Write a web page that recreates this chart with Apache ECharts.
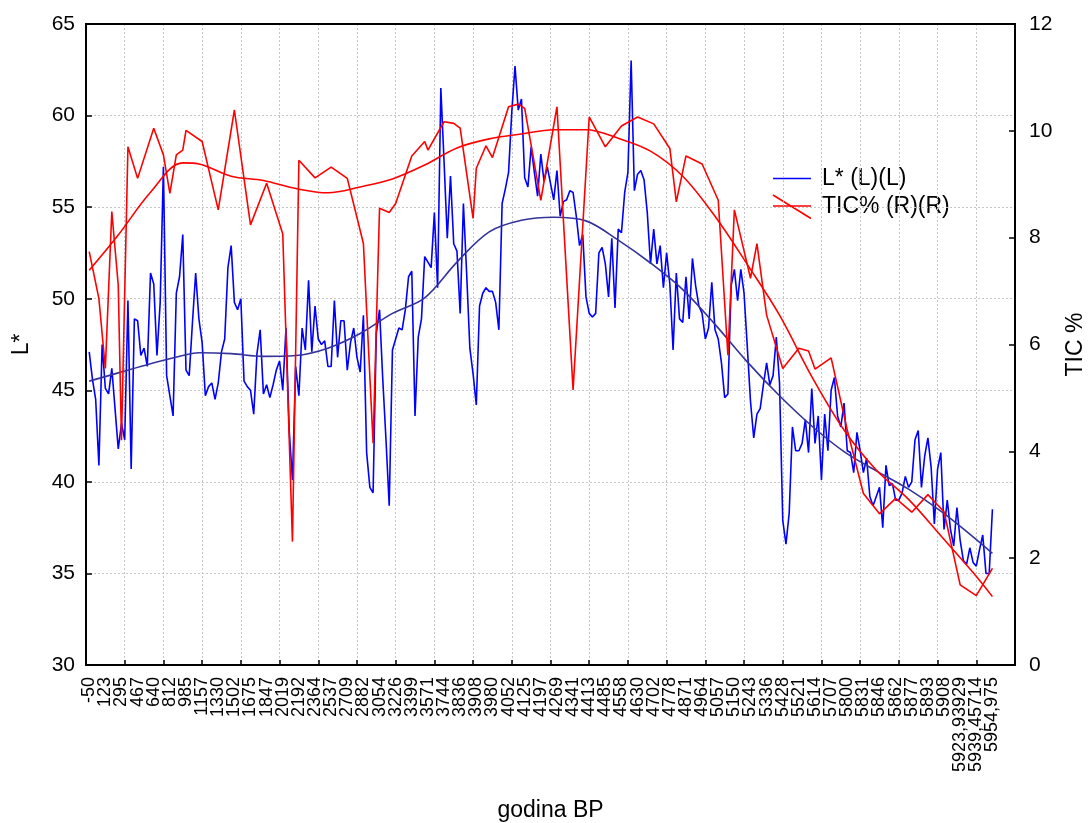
<!DOCTYPE html>
<html>
<head>
<meta charset="utf-8">
<title>L* i TIC%</title>
<script src="https://cdn.jsdelivr.net/npm/echarts@6/dist/echarts.min.js"></script>
<style>
  html, body { margin: 0; padding: 0; background: #fff; }
  #chart { width: 1090px; height: 823px; }
</style>
</head>
<body>
<div id="chart"></div>
<script>
// Age labels (godina BP) shown under every fifth sample
const tickLabels = ['-50','123','295','467','640','812','985','1157','1330','1502','1675','1847',
  '2019','2192','2364','2537','2709','2882','3054','3226','3399','3571','3744','3836','3908',
  '3980','4052','4125','4197','4269','4341','4413','4485','4558','4630','4702','4778','4871',
  '4964','5057','5150','5243','5336','5428','5521','5614','5707','5800','5831','5846','5862',
  '5877','5893','5908','5923,93929','5939,45714','5954,975'];

// L* lightness, one value per sample (samples 1..281)
const lStar = [
  47.1,45.6,44.5,40.9,47.5,45.1,44.8,46.2,44.0,41.8, 43.2,42.3,49.9,40.7,48.9,48.8,46.9,47.3,46.3,51.4,
  50.8,46.9,49.8,57.2,45.8,44.7,43.6,50.3,51.2,53.5, 46.1,45.8,48.7,51.4,48.9,47.6,44.7,45.2,45.4,44.5,
  45.4,47.1,47.8,51.7,52.9,49.8,49.4,50.0,45.5,45.2, 45.0,43.7,47.0,48.3,44.8,45.3,44.6,45.3,46.1,46.6,
  45.0,48.4,42.8,40.1,46.3,44.7,48.4,47.2,51.0,47.1, 49.6,47.8,47.5,47.7,46.3,46.3,49.9,46.8,48.8,48.8,
  46.1,47.6,48.4,46.8,46.0,49.1,41.6,39.7,39.4,48.1, 49.4,45.6,42.3,38.7,47.2,47.8,48.4,48.3,49.4,51.2,
  51.5,43.6,47.9,48.9,52.3,52.0,51.7,54.7,50.6,61.5, 57.5,53.3,56.7,53.0,52.6,49.2,55.2,51.4,47.3,45.9,
  44.2,49.6,50.3,50.6,50.4,50.4,49.8,48.3,55.2,56.0, 56.9,60.2,62.7,60.3,60.9,56.6,56.1,58.3,56.9,55.6,
  57.9,56.4,57.2,56.3,55.4,57.0,54.5,55.3,55.4,55.9, 55.8,54.5,52.9,53.5,50.1,49.2,49.0,49.2,52.5,52.8,
  51.9,50.1,53.3,49.5,53.8,53.6,55.8,56.9,63.0,55.9, 56.8,57.0,56.5,54.7,51.9,53.8,51.9,52.9,50.6,52.5,
  50.8,47.2,51.4,48.9,48.7,51.2,48.9,52.2,50.7,49.6, 49.2,47.8,48.4,50.9,48.3,47.8,46.5,44.6,44.8,50.7,
  51.6,49.9,51.6,50.3,47.4,44.4,42.4,43.7,44.0,45.3, 46.5,45.3,45.8,47.9,45.4,37.9,36.6,38.3,43.0,41.7,
  41.7,42.1,43.4,41.6,45.1,42.1,43.6,40.1,43.7,41.7, 45.0,45.7,43.6,43.0,44.3,41.7,41.6,40.5,42.7,41.7,
  40.5,41.3,39.2,38.7,39.2,39.7,37.5,40.9,39.8,39.9, 39.0,39.0,39.4,40.3,39.7,40.0,42.3,42.8,39.7,41.4,
  42.4,40.8,37.7,40.7,41.6,37.4,39.0,37.4,36.5,38.6, 36.8,35.7,35.5,36.4,35.6,35.4,36.3,37.1,35.0,35.0,
  38.5
];

// TIC %, measured on a subset of the samples
const ticCases = [1,4,6,8,10,11,13,16,21,24,26,28,30,31,36,41,46,51,56,61,
  64,66,71,76,81,86,89,91,94,96,101,105,106,111,114,116,120,121,124,126,
  131,134,136,141,146,151,156,161,166,171,176,181,183,186,191,196,199,201,206,208,
  211,216,221,224,226,231,236,241,246,251,256,261,266,271,276,281];
const ticValues = [7.74,6.86,5.55,8.49,7.11,4.21,9.70,9.11,10.05,9.55,8.83,9.55,9.64,10.01,9.80,8.52,10.39,8.24,9.02,8.07,
  2.31,9.45,9.12,9.32,9.11,7.89,4.15,8.55,8.47,8.64,9.53,9.80,9.64,10.17,10.14,10.05,8.36,9.30,9.72,9.50,
  10.45,10.50,10.42,8.70,10.45,5.15,10.26,9.70,10.09,10.26,10.13,9.67,8.67,9.53,9.38,8.70,5.80,8.52,7.24,7.89,
  6.55,5.55,5.93,5.88,5.54,5.75,4.40,3.21,2.83,3.12,2.86,3.19,2.87,1.50,1.30,1.81];

// Smoothed trend curves, sampled along the sample axis
const fitCases = [1,10,20,30,35,45,55,65,75,85,95,105,115,125,135,145,155,165,175,185,195,205,215,225,235,245,255,265,275,281];
const lFit   = [45.5,45.95,46.45,46.9,47.05,47.0,46.85,46.9,47.3,48.1,49.2,50.05,52.0,53.65,54.28,54.45,54.25,53.2,51.95,50.5,48.6,46.55,44.7,43.05,41.65,40.6,39.6,38.4,37.0,36.1];
const ticFit = [7.39,8.05,8.85,9.4,9.38,9.15,9.07,8.92,8.84,8.95,9.1,9.36,9.68,9.85,9.94,10.02,10.02,9.86,9.62,9.15,8.4,7.5,6.55,5.4,4.4,3.65,3.1,2.42,1.73,1.28];

const labelByCase = {};
tickLabels.forEach((t, i) => { labelByCase[1 + 5 * i] = t; });

const FONT = '"Liberation Sans", Arial, sans-serif';
const gridLine = { show: true, lineStyle: { color: '#c6c6c6', type: [2, 2], width: 1 } };
const axisBlack = { show: true, onZero: false, lineStyle: { color: '#000', width: 2 } };
const tickIn = { show: true, inside: true, length: 6, lineStyle: { color: '#000', width: 1.5 } };

const chart = echarts.init(document.getElementById('chart'), null, { renderer: 'canvas' });

chart.setOption({
  animation: false,
  backgroundColor: '#fff',
  grid: {
    left: 86, right: 75, top: 24, bottom: 158, outerBoundsMode: 'none', containLabel: false,
    show: true, borderColor: '#000', borderWidth: 2, backgroundColor: 'transparent'
  },
  xAxis: [
    {
      type: 'value', min: 0, max: 288, interval: 12,
      axisLine: axisBlack, axisTick: Object.assign({}, tickIn, { length: 5 }),
      axisLabel: { show: false }, splitLine: gridLine,
      name: 'godina BP', nameLocation: 'middle', nameGap: 134,
      nameTextStyle: { fontSize: 23, fontFamily: FONT, color: '#000' }
    },
    {
      type: 'value', min: 0, max: 288, interval: 1, position: 'bottom',
      axisLine: { show: false }, axisTick: { show: false }, splitLine: { show: false },
      axisLabel: {
        show: true, rotate: 90, margin: 12, fontSize: 18, fontFamily: FONT, color: '#000',
        formatter: v => labelByCase[Math.round(v)] || ''
      }
    }
  ],
  yAxis: [
    {
      type: 'value', min: 30, max: 65, interval: 5, position: 'left',
      axisLine: axisBlack, axisTick: tickIn, splitLine: gridLine,
      axisLabel: { fontSize: 21, fontFamily: FONT, color: '#000', margin: 11 },
      name: 'L*', nameLocation: 'middle', nameRotate: 90, nameGap: 53,
      nameTextStyle: { fontSize: 23, fontFamily: FONT, color: '#000' }
    },
    {
      type: 'value', min: 0, max: 12, interval: 2, position: 'right',
      axisLine: axisBlack, axisTick: tickIn, splitLine: { show: false },
      axisLabel: { fontSize: 21, fontFamily: FONT, color: '#000', margin: 14 },
      name: 'TIC %', nameLocation: 'middle', nameRotate: 90, nameGap: 49,
      nameTextStyle: { fontSize: 23, fontFamily: FONT, color: '#000' }
    }
  ],
  series: [
    {
      name: 'L* (L)(L)', type: 'line', xAxisIndex: 0, yAxisIndex: 0, symbol: 'none',
      data: lStar.map((v, i) => [i + 1, v]),
      lineStyle: { color: '#0000ff', width: 1.6 }, z: 3
    },
    {
      name: 'L* trend', type: 'line', xAxisIndex: 0, yAxisIndex: 0, symbol: 'none', smooth: 0.35,
      data: fitCases.map((c, i) => [c, lFit[i]]),
      lineStyle: { color: '#33339a', width: 1.6 }, z: 4
    },
    {
      name: 'TIC% (R)(R)', type: 'line', xAxisIndex: 0, yAxisIndex: 1, symbol: 'none',
      data: ticCases.map((c, i) => [c, ticValues[i]]),
      lineStyle: { color: '#ff0000', width: 1.6 }, z: 5
    },
    {
      name: 'TIC trend', type: 'line', xAxisIndex: 0, yAxisIndex: 1, symbol: 'none', smooth: 0.35,
      data: fitCases.map((c, i) => [c, ticFit[i]]),
      lineStyle: { color: '#ff0000', width: 1.6 }, z: 5
    }
  ],
  graphic: [
    // solid top edge of the plot frame
    { type: 'line', z: 100, shape: { x1: 86, y1: 24, x2: 1015, y2: 24 }, style: { stroke: '#000', lineWidth: 2 } },
    // legend
    { type: 'line', shape: { x1: 773, y1: 178.5, x2: 811, y2: 178.5 }, style: { stroke: '#0000ff', lineWidth: 1.6 } },
    { type: 'text', x: 822, y: 179, style: { text: 'L* (L)(L)', fontSize: 23, fontFamily: FONT, fill: '#000', verticalAlign: 'middle' } },
    { type: 'line', shape: { x1: 773, y1: 206, x2: 811, y2: 206 }, style: { stroke: '#ff0000', lineWidth: 1.6 } },
    { type: 'line', shape: { x1: 773, y1: 195, x2: 811, y2: 218.5 }, style: { stroke: '#ff0000', lineWidth: 1.6 } },
    { type: 'text', x: 822, y: 207, style: { text: 'TIC% (R)(R)', fontSize: 23, fontFamily: FONT, fill: '#000', verticalAlign: 'middle' } }
  ]
});
</script>
</body>
</html>
